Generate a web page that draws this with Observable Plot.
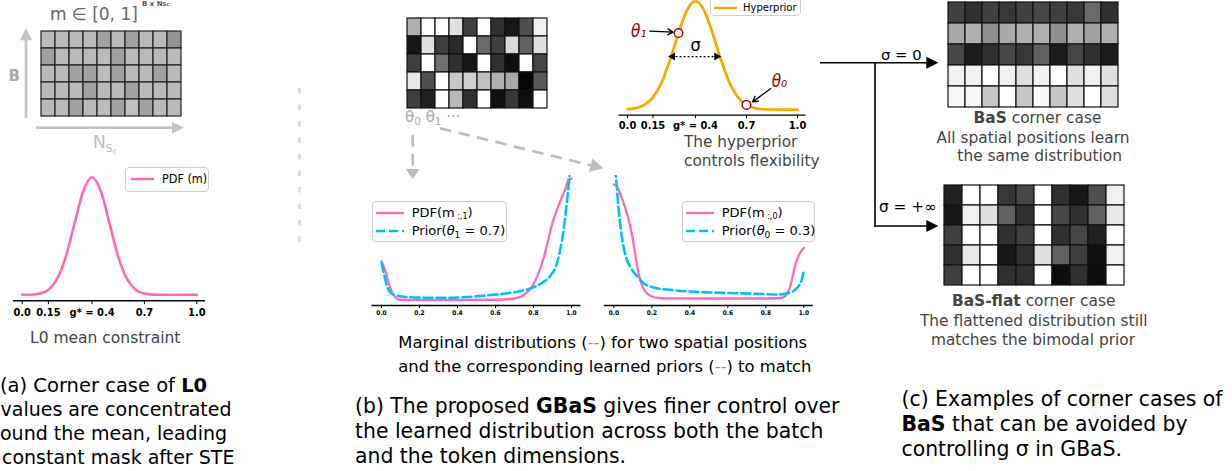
<!DOCTYPE html>
<html>
<head>
<meta charset="utf-8">
<script src="https://cdn.jsdelivr.net/npm/d3@7"></script>
<script src="https://cdn.jsdelivr.net/npm/@observablehq/plot@0.6"></script>
<style>
html,body{margin:0;padding:0;background:#fff;}
body{width:1232px;height:471px;overflow:hidden;position:relative;font-family:"DejaVu Sans",Verdana,sans-serif;color:#000;}
.t{position:absolute;white-space:nowrap;}
.leg{position:absolute;border:1px solid #cfcfcf;border-radius:4px;background:rgba(255,255,255,0.85);box-sizing:border-box;}
.sb{font-size:70%;position:relative;top:0.3em;}
.ss{font-size:62%;position:relative;top:0.25em;margin-left:0.3em;}
svg{display:block;}
</style>
</head>
<body>
<script>
// ---------------- data ----------------
// mask values (0 = black, 1 = white), 5 rows x 10 columns
const maskL0 = [
  [0.73,0.73,0.73,0.73,0.63,0.73,0.63,0.73,0.73,0.58],
  [0.63,0.73,0.73,0.73,0.73,0.63,0.73,0.73,0.73,0.73],
  [0.73,0.73,0.63,0.63,0.73,0.63,0.73,0.73,0.63,0.73],
  [0.73,0.73,0.73,0.63,0.73,0.73,0.63,0.73,0.73,0.73],
  [0.73,0.73,0.63,0.73,0.73,0.63,0.75,0.63,0.73,0.73]
];
const maskGBaS = [
  [0.69,1.00,1.00,0.88,0.25,1.00,0.19,0.09,0.31,0.94],
  [0.09,0.88,0.25,0.16,1.00,0.41,0.25,0.85,0.38,0.88],
  [0.25,1.00,0.44,0.19,0.09,1.00,0.19,0.06,1.00,0.28],
  [0.91,0.31,1.00,0.78,0.82,0.75,0.69,0.66,0.02,0.35],
  [0.25,0.13,1.00,0.72,0.19,1.00,0.06,0.22,0.06,1.00]
];
const maskBaS = [
  [0.25,0.19,0.25,0.22,0.25,0.28,0.25,0.22,0.41,0.19],
  [0.66,0.69,0.56,0.66,0.69,0.69,0.56,0.69,0.63,0.69],
  [0.28,0.11,0.19,0.28,0.22,0.38,0.11,0.28,0.19,0.11],
  [0.94,0.94,1.00,0.94,0.88,0.94,1.00,0.88,0.94,0.88],
  [0.97,0.97,0.78,1.00,0.78,0.97,0.78,0.88,1.00,0.88]
];
const maskBaSFlat = [
  [0.13,1.00,1.00,0.22,0.28,1.00,0.19,0.09,0.31,0.94],
  [0.09,0.94,0.88,0.38,0.19,1.00,0.28,0.19,0.38,0.91],
  [0.25,1.00,1.00,0.19,0.25,1.00,0.19,0.28,0.13,1.00],
  [0.19,0.91,1.00,0.09,0.19,0.88,0.38,0.25,0.06,0.94],
  [0.25,1.00,1.00,0.19,0.19,1.00,0.05,0.19,0.05,1.00]
];

// (a) L0 mean constraint PDF
const l0X   = [0,0.05,0.1,0.15,0.2,0.25,0.3,0.35,0.4,0.45,0.5,0.55,0.6,0.65,0.7,0.75,0.8,0.9,1.0];
const l0Pdf = [0,0.001,0.011,0.044,0.135,0.325,0.607,0.882,1,0.882,0.607,0.325,0.135,0.044,0.011,0.002,0,0,0];

// (b) hyperprior
const hypX = [0,0.05,0.1,0.15,0.2,0.25,0.3,0.35,0.4,0.45,0.5,0.55,0.6,0.65,0.7,0.75,0.8,0.9,1.0];
const hypY = [0.004,0.014,0.044,0.114,0.249,0.458,0.707,0.917,1,0.917,0.707,0.458,0.249,0.114,0.044,0.014,0.004,0,0];
const thetaX = [0.3, 0.7];
const thetaY = [0.707, 0.044];
const thetaNames = ["θ₁", "θ₀"];

// (b) marginal distributions, position 1
const m1X   = [0,0.02,0.04,0.06,0.08,0.1,0.2,0.4,0.6,0.7,0.75,0.8,0.85,0.9,0.94,0.97,0.985,1.0];
const m1Pdf = [1.77,1.4,0.85,0.45,0.28,0.23,0.22,0.22,0.23,0.28,0.42,0.85,1.8,3.3,4.15,4.7,5.05,5.07];
const p1X   = [0,0.015,0.03,0.05,0.08,0.15,0.25,0.35,0.45,0.55,0.65,0.72,0.8,0.85,0.89,0.92,0.94,0.96,0.975,0.99];
const p1Y   = [1.7,1.2,0.75,0.5,0.4,0.33,0.31,0.31,0.34,0.4,0.48,0.56,0.73,0.93,1.2,1.6,2.2,3.1,4.1,5.2];
// position 0
const m0X   = [0,0.02,0.04,0.07,0.1,0.13,0.16,0.2,0.25,0.5,0.8,0.88,0.91,0.93,0.95,0.97,0.985,1.0];
const m0Pdf = [4.84,4.72,4.35,3.67,2.65,1.3,0.62,0.36,0.29,0.28,0.28,0.3,0.45,0.8,1.45,1.95,2.15,2.3];
const p0X   = [0,0.01,0.026,0.05,0.07,0.09,0.12,0.16,0.2,0.33,0.45,0.6,0.75,0.86,0.92,0.95,0.98,0.99,1.0];
const p0Y   = [5.5,5.2,3.8,2.4,1.8,1.5,1.2,0.87,0.74,0.6,0.54,0.5,0.47,0.44,0.5,0.6,0.87,1.05,1.4];

// tick labels
const gTicks = [0,0.15,0.4,0.7,1.0];
const gTickLabels = ["0.0","0.15","g* = 0.4","0.7","1.0"];
const mTicks = [0,0.2,0.4,0.6,0.8,1.0];
const mTickLabels = ["0.0","0.2","0.4","0.6","0.8","1.0"];

const PINK = "#ff69b4", BLUE = "#00bfff", ORANGE = "#ffa500", DARKRED = "#990000";
const pts = (xs, ys) => xs.map((x, i) => ({x, y: ys[i]}));

// ---------------- helpers ----------------
const place = (el, left, top) => { el.style.position = "absolute"; el.style.left = left + "px"; el.style.top = top + "px"; document.body.appendChild(el); return el; };

function txt(html, left, cy, size, style = {}) {
  const d = document.createElement("div");
  d.className = "t";
  d.innerHTML = html;
  Object.assign(d.style, {left: left + "px", top: (cy - size * 0.58) + "px", fontSize: size + "px", lineHeight: (size * 1.2) + "px"}, style);
  document.body.appendChild(d);
  return d;
}
// tight line box (line-height = font size)
function ttxt(html, left, cy, size, style = {}) {
  return txt(html, left, cy, size, Object.assign({top: (cy - size * 0.481) + "px", lineHeight: size + "px"}, style));
}
function ctxt(html, cx, cy, size, style = {}) {
  const d = txt(html, cx, cy, size, style);
  d.style.transform = "translateX(-50%)";
  return d;
}

function arrow(svg, x1, y1, x2, y2, o) {
  const dx = x2 - x1, dy = y2 - y1, L = Math.hypot(dx, dy), ux = dx / L, uy = dy / L;
  const bx = x2 - ux * o.len, by = y2 - uy * o.len;
  svg.append("line").attr("x1", x1).attr("y1", y1).attr("x2", bx + ux * 1).attr("y2", by + uy * 1)
    .attr("stroke", o.stroke).attr("stroke-width", o.width).attr("stroke-dasharray", o.dash || null);
  svg.append("polygon")
    .attr("points", `${x2},${y2} ${bx - uy * o.half},${by + ux * o.half} ${bx + uy * o.half},${by - ux * o.half}`)
    .attr("fill", o.stroke);
}

function maskGrid(values, left, top, w, h, stroke) {
  const cells = values.flatMap((row, r) => row.map((v, c) => ({r, c, v})));
  const svg = Plot.plot({
    width: w + 2, height: h + 2, margin: 1,
    style: {background: "none"},
    x: {type: "band", domain: d3.range(values[0].length), padding: 0, axis: null},
    y: {type: "band", domain: d3.range(values.length), padding: 0, axis: null},
    color: {type: "linear", domain: [0, 1], range: ["#000000", "#ffffff"]},
    marks: [Plot.cell(cells, {x: "c", y: "r", fill: "v", stroke, strokeWidth: 1.2, inset: 0})]
  });
  place(svg, left - 1, top - 1);
}

function lineChart(o) {
  const svg = Plot.plot({
    width: o.width, height: o.height,
    marginLeft: o.mL, marginRight: o.mR, marginTop: o.mT, marginBottom: o.mB,
    x: {domain: [-0.05, 1.05], ticks: o.ticks, tickFormat: d => o.labels[o.ticks.indexOf(d)], tickSize: o.tickSize, tickPadding: o.tickPadding, label: null},
    y: {domain: o.yDomain, axis: null},
    style: {background: "none", fontFamily: '"DejaVu Sans Condensed","DejaVu Sans",sans-serif', fontStretch: "condensed", fontWeight: "bold", fontSize: o.tickFont + "px", color: "black"},
    marks: [Plot.ruleY([o.yDomain[0]], {stroke: "black", strokeWidth: 1.4}), ...o.marks]
  });
  place(svg, o.left, o.top);
}

function legendBox(left, top, w, h, rows, o) {
  const box = document.createElement("div");
  box.className = "leg";
  Object.assign(box.style, {left: left + "px", top: top + "px", width: w + "px", height: h + "px"});
  rows.forEach(r => {
    const s = d3.create("svg").attr("width", o.lx2 + 4).attr("height", 10)
      .style("position", "absolute").style("left", "0px").style("top", (r.y - 5) + "px");
    s.append("line").attr("x1", o.lx1).attr("x2", o.lx2).attr("y1", 5).attr("y2", 5)
      .attr("stroke", r.color).attr("stroke-width", r.width).attr("stroke-dasharray", r.dash || null);
    box.appendChild(s.node());
    const t = document.createElement("div");
    t.className = "t";
    t.innerHTML = r.label;
    Object.assign(t.style, {left: o.tx + "px", top: (r.y - o.size * 0.6) + "px", fontSize: o.size + "px", lineHeight: (o.size * 1.2) + "px", fontFamily: o.family || "inherit"});
    box.appendChild(t);
  });
  document.body.appendChild(box);
}

// ---------------- decorations (arrows, connectors) ----------------
const deco = d3.create("svg").attr("width", 1232).attr("height", 471);
const lg = "#c4c4c4";
arrow(deco, 26, 118.3, 26, 28.3, {stroke: lg, width: 2.7, len: 12, half: 6});
arrow(deco, 36, 127.7, 184, 127.7, {stroke: lg, width: 2.7, len: 12, half: 6});
deco.append("line").attr("x1", 299.5).attr("y1", 88).attr("x2", 299.5).attr("y2", 246)
  .attr("stroke", "#dddddd").attr("stroke-width", 3).attr("stroke-dasharray", "5.5,11");
arrow(deco, 412.7, 135, 412.7, 179, {stroke: "#bdbdbd", width: 2.6, dash: "11.5,7.5", len: 10, half: 7});
arrow(deco, 440, 128.3, 603.3, 168.3, {stroke: "#bdbdbd", width: 2.6, dash: "11.5,7.5", len: 13, half: 7});
arrow(deco, 820, 62.7, 938.3, 62.7, {stroke: "black", width: 1.6, len: 12, half: 6});
deco.append("line").attr("x1", 875).attr("y1", 62).attr("x2", 875).attr("y2", 226.8).attr("stroke", "black").attr("stroke-width", 1.6);
arrow(deco, 874.2, 226, 938.3, 226, {stroke: "black", width: 1.6, len: 12, half: 6});
place(deco.node(), 0, 0);

// ---------------- grids ----------------
maskGrid(maskL0, 36, 29.3, 149, 89, "#222");
maskGrid(maskGBaS, 404.3, 17.7, 145.7, 90.6, "#111");
maskGrid(maskBaS, 944.3, 1, 177.4, 106.3, "#111");
maskGrid(maskBaSFlat, 944.3, 182.7, 180, 104.6, "#111");

// ---------------- curves ----------------
lineChart({
  left: 0, top: 160, width: 215, height: 165, mL: 13, mR: 10, mT: 10.8, mB: 24.8,
  yDomain: [-0.05, 1.05], ticks: gTicks, labels: gTickLabels, tickFont: 11, tickSize: 4, tickPadding: 3,
  marks: [Plot.line(pts(l0X, l0Pdf), {x: "x", y: "y", stroke: PINK, strokeWidth: 2.6, curve: "monotone-x"})]
});

lineChart({
  left: 600, top: -10, width: 220, height: 150, mL: 18.5, mR: 14.5, mT: 5.3, mB: 25.4,
  yDomain: [-0.05, 1.05], ticks: gTicks, labels: gTickLabels, tickFont: 11, tickSize: 3.5, tickPadding: 2.5,
  marks: [
    Plot.line(pts(hypX, hypY), {x: "x", y: "y", stroke: ORANGE, strokeWidth: 2.7, curve: "monotone-x"}),
    Plot.ruleY([0.49], {x1: 0.262, x2: 0.528, stroke: "black", strokeWidth: 1.3, strokeDasharray: "2,2"}),
    Plot.dot([{x: 0.266, r: -90}, {x: 0.524, r: 90}], {x: "x", y: () => 0.49, symbol: "triangle", r: 3, fill: "black", stroke: "none", rotate: "r"}),
    Plot.text(["σ"], {x: 0.4, y: 0.59, fontSize: 18, fontWeight: "normal", fontFamily: "DejaVu Sans", fill: "black"}),
    Plot.arrow([{x1: 0.131, y1: 0.724, x2: 0.268, y2: 0.715}, {x1: 0.841, y1: 0.193, x2: 0.736, y2: 0.072}],
      {x1: "x1", y1: "y1", x2: "x2", y2: "y2", stroke: "black", strokeWidth: 1.3, headLength: 7}),
    Plot.dot(pts(thetaX, thetaY), {x: "x", y: "y", r: 4.3, stroke: DARKRED, fill: "white", strokeWidth: 1.4}),
    Plot.text(thetaNames, {x: [0.066, 0.894], y: [0.72, 0.26], fontSize: 17, fontStyle: "italic", fontWeight: "normal", fontFamily: "DejaVu Sans", fill: DARKRED})
  ]
});

lineChart({
  left: 360, top: 165, width: 230, height: 160, mL: 11.5, mR: 9.5, mT: 10, mB: 20,
  yDomain: [0, 5.2], ticks: mTicks, labels: mTickLabels, tickFont: 6.5, tickSize: 3, tickPadding: 2,
  marks: [
    Plot.line(pts(m1X, m1Pdf), {x: "x", y: "y", stroke: PINK, strokeWidth: 2.3, curve: "monotone-x", clip: true}),
    Plot.line(pts(p1X, p1Y), {x: "x", y: "y", stroke: BLUE, strokeWidth: 2.6, strokeDasharray: "9,4", curve: "monotone-x", clip: true})
  ]
});

lineChart({
  left: 590, top: 165, width: 230, height: 160, mL: 13.8, mR: 7.2, mT: 10, mB: 20,
  yDomain: [0, 5.2], ticks: mTicks, labels: mTickLabels, tickFont: 6.5, tickSize: 3, tickPadding: 2,
  marks: [
    Plot.line(pts(m0X, m0Pdf), {x: "x", y: "y", stroke: PINK, strokeWidth: 2.3, curve: "monotone-x", clip: true}),
    Plot.line(pts(p0X, p0Y), {x: "x", y: "y", stroke: BLUE, strokeWidth: 2.6, strokeDasharray: "9,4", curve: "monotone-x", clip: true})
  ]
});

// ---------------- legends ----------------
legendBox(125, 166.7, 84, 25, [{y: 11.3, color: PINK, width: 2.4, label: "PDF (m)"}],
  {lx1: 5, lx2: 28, tx: 36, size: 12.5, family: '"DejaVu Sans Condensed","DejaVu Sans",sans-serif'});
legendBox(710, -3, 91, 19, [{y: 9.7, color: ORANGE, width: 2.4, label: "Hyperprior"}],
  {lx1: 3, lx2: 26, tx: 32, size: 10});
legendBox(371.7, 200.7, 135, 41, [
  {y: 11, color: PINK, width: 2.3, label: 'PDF(m<span class="ss">:,1</span>)'},
  {y: 29.5, color: BLUE, width: 2.6, dash: "9,4", label: 'Prior(<i>θ</i><span class="sb">1</span> = 0.7)'}
], {lx1: 3, lx2: 31, tx: 39, size: 13});
legendBox(681.7, 200.7, 133.3, 41, [
  {y: 11, color: PINK, width: 2.3, label: 'PDF(m<span class="ss">:,0</span>)'},
  {y: 29.5, color: BLUE, width: 2.6, dash: "9,4", label: 'Prior(<i>θ</i><span class="sb">0</span> = 0.3)'}
], {lx1: 3, lx2: 31, tx: 39, size: 13});

// ---------------- texts ----------------
// (a)
txt("m ∈ [0, 1]", 50, 14, 17, {color: "#666"});
txt('<b>B x N<span style="font-size:75%">Sc</span></b>', 142, 4.5, 7, {color: "#555"});
txt("<b>B</b>", 8.5, 76, 15, {color: "#aaa"});
txt('N<span style="font-size:62%;position:relative;top:0.35em">S<span style="font-size:75%;position:relative;top:0.3em">c</span></span>', 93, 142, 17, {color: "#bbb"});
txt("L0 mean constraint", 30, 338, 15.5, {color: "#444"});
ttxt("(a) Corner case of <b>L0</b>", 0, 385, 19.5);
ttxt("values are concentrated", 0.5, 409.5, 19);
ttxt("ound the mean, leading", 0, 433.5, 19);
ttxt("constant mask after STE", 2, 457.5, 19);

// (b)
txt('θ<span class="sb">0</span> θ<span class="sb">1</span> ···', 405, 117, 15, {color: "#aaa"});
txt("The hyperprior", 684, 141.8, 15.3, {color: "#444"});
txt("controls flexibility", 684, 160.8, 15.3, {color: "#444"});
txt('Marginal distributions (<span style="color:#ff4fa7">--</span>) for two spatial positions', 398.3, 343, 16.4);
txt('and the corresponding learned priors (<span style="color:#1ab4ff">--</span>) to match', 398.3, 367, 16.4);
txt("(b) The proposed <b>GBaS</b> gives finer control over", 355, 405.8, 20.4);
txt("the learned distribution across both the batch", 355, 430.8, 20.4);
txt("and the token dimensions.", 355, 455.8, 20.4);

// (c)
txt("σ = 0", 881, 55, 14.8);
txt("σ = +∞", 879, 207, 15.3);
ctxt("<b>BaS</b> corner case", 1037.5, 117.5, 15.4, {color: "#444"});
ctxt("All spatial positions learn", 1033, 137.5, 15.4, {color: "#444"});
ctxt("the same distribution", 1039.7, 155.8, 15.4, {color: "#444"});
ctxt("<b>BaS-flat</b> corner case", 1033.7, 300.5, 15.4, {color: "#444"});
ctxt("The flattened distribution still", 1033.7, 320.8, 15.4, {color: "#444"});
ctxt("matches the bimodal prior", 1033, 339.8, 15.4, {color: "#444"});
txt("(c) Examples of corner cases of", 901.5, 399, 20.4);
txt("<b>BaS</b> that can be avoided by", 901.5, 424, 20.4);
txt("controlling σ in GBaS.", 901.5, 448.5, 20.4);
</script>
</body>
</html>
